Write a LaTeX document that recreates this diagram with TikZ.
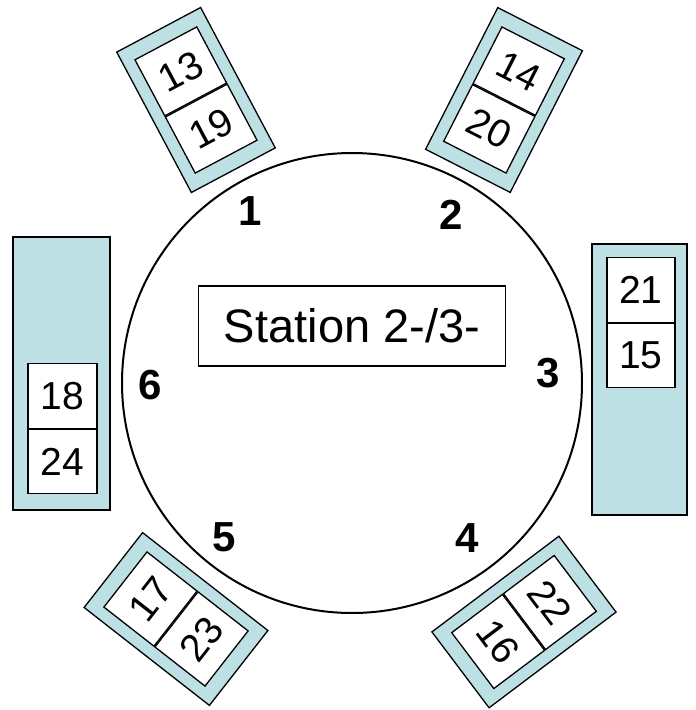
\documentclass[tikz,border=0pt]{standalone}
\usepackage{fontspec}
\setmainfont{Liberation Sans}
\usepackage{tikz}
\definecolor{seat}{RGB}{188,224,227}
\tikzset{holder/.style={draw,line width=1.3pt,fill=seat,inner sep=0pt,minimum width=95pt,minimum height=159pt}}
\tikzset{cell/.style={draw,line width=1.3pt,fill=white,inner sep=0pt,minimum width=70pt,minimum height=63.5pt,font=\fontsize{39}{41}\selectfont}}

\begin{document}
\begin{tikzpicture}[x=1pt,y=-1pt]

\tikzset{index/.style={font=\fontsize{42}{44}\selectfont\bfseries}}

\useasboundingbox (0,0) rectangle (696,710);

\node (ring) [draw,circle,line width=2pt,minimum size=460pt] at (352,383) {};

\node (station) [draw,line width=1.3pt,minimum width=307pt,minimum height=80pt,font=\fontsize{47}{49}\selectfont] at (352,326) {Station 2-/3-};

\node (n1) [index] at (250,211) {1};
\node (n2) [index] at (451,215) {2};
\node (n3) [index] at (548,373) {3};
\node (n4) [index] at (467,538) {4};
\node (n5) [index] at (224,537) {5};
\node (n6) [index] at (150,385) {6};

% place 1
\node (h1) [holder,rotate=28] at (196,100) {};
\node (c13) [cell,rotate=28,anchor=south] at (h1.center) {13};
\node (c19) [cell,rotate=28,anchor=north] at (h1.center) {19};

% place 2
\node (h2) [holder,rotate=-27] at (504,100) {};
\node (c14) [cell,rotate=-27,anchor=south] at (h2.center) {14};
\node (c20) [cell,rotate=-27,anchor=north] at (h2.center) {20};

% place 3
\node (h3) [holder,minimum height=271pt] at (639.5,379.5) {};
\node (c21) [cell,minimum width=68pt,minimum height=65pt,anchor=south] at (641,323) {21};
\node (c15) [cell,minimum width=68pt,minimum height=64pt,anchor=north] at (641,323) {15};

% place 4
\node (h4) [holder,rotate=-53] at (524,622) {};
\node (c22) [cell,rotate=-53,anchor=south] at (h4.center) {22};
\node (c16) [cell,rotate=-53,anchor=north] at (h4.center) {16};

% place 5
\node (h5) [holder,rotate=52] at (176,619) {};
\node (c17) [cell,rotate=52,anchor=south] at (h5.center) {17};
\node (c23) [cell,rotate=52,anchor=north] at (h5.center) {23};

% place 6
\node (h6) [holder,minimum width=97pt,minimum height=273pt] at (61.5,373.5) {};
\node (c18) [cell,minimum width=69pt,minimum height=65pt,anchor=south] at (62.5,429) {18};
\node (c24) [cell,minimum width=69pt,minimum height=64pt,anchor=north] at (62.5,429) {24};

\end{tikzpicture}
\end{document}
